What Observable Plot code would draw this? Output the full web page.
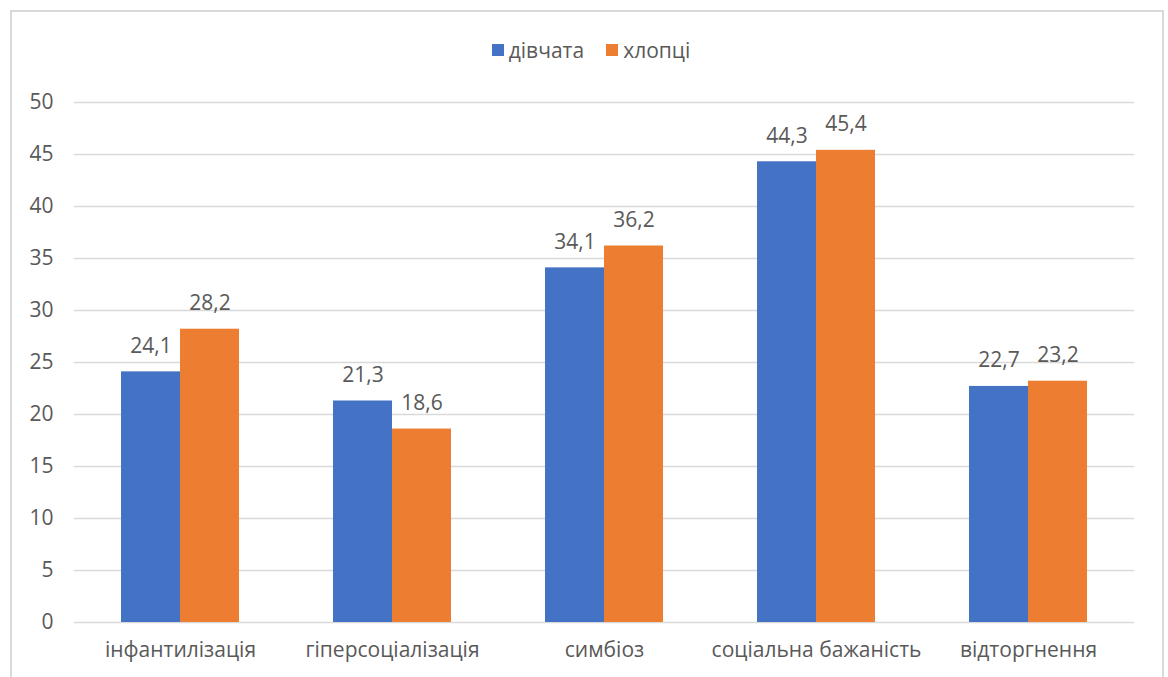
<!DOCTYPE html>
<html>
<head>
<meta charset="utf-8">
<script src="https://cdn.jsdelivr.net/npm/d3@7"></script>
<script src="https://cdn.jsdelivr.net/npm/@observablehq/plot@0.6"></script>
<style>
  html, body { margin: 0; padding: 0; background: #fff; overflow: hidden; }
  body { width: 1168px; height: 677px; position: relative; font-family: "Open Sans", "Noto Sans", sans-serif; }
  #frame { position: absolute; left: 10px; top: 10px; width: 1154px; height: 700px; border: 2px solid #d9d9d9; box-sizing: border-box; }
  #legend { position: absolute; left: 7px; top: 36px; width: 1168px; display: flex; justify-content: center; gap: 22px; font-size: 21px; color: #595959; line-height: 28px; }
  #legend .item { display: flex; align-items: center; gap: 5px; }
  #legend .sw { width: 12px; height: 12px; display: inline-block; }
  #chart { position: absolute; left: 0; top: 80px; }
</style>
</head>
<body>
<div id="frame"></div>
<div id="legend"></div>
<div id="chart"></div>
<script>
const categories = ["інфантилізація", "гіперсоціалізація", "симбіоз", "соціальна бажаність", "відторгнення"];
const seriesNames = ["дівчата", "хлопці"];
const girls = [24.1, 21.3, 34.1, 44.3, 22.7];
const boys = [28.2, 18.6, 36.2, 45.4, 23.2];
const yTicks = [0, 5, 10, 15, 20, 25, 30, 35, 40, 45, 50];
const colors = ["#4472C4", "#ED7D31"];

const data = [];
categories.forEach((c, i) => {
  data.push({category: c, series: seriesNames[0], value: girls[i]});
  data.push({category: c, series: seriesNames[1], value: boys[i]});
});

const legend = document.getElementById("legend");
seriesNames.forEach((s, i) => {
  const item = document.createElement("div");
  item.className = "item";
  const sw = document.createElement("span");
  sw.className = "sw";
  sw.style.background = colors[i];
  const t = document.createElement("span");
  t.textContent = s;
  item.appendChild(sw);
  item.appendChild(t);
  legend.appendChild(item);
});

const fmt = v => v.toFixed(1).replace(".", ",");

const chart = Plot.plot({
  width: 1168,
  height: 597,
  marginTop: 22,
  marginBottom: 55,
  marginLeft: 74,
  marginRight: 34,
  style: {fontFamily: "'Open Sans', 'Noto Sans', sans-serif", fontSize: "21px", color: "#595959", background: "transparent"},
  fx: {domain: categories, padding: 0, label: null, tickSize: 0, tickPadding: 20, axis: "bottom"},
  x: {domain: seriesNames, paddingInner: 0, paddingOuter: 0.767, axis: null},
  y: {domain: [0, 50], ticks: yTicks, tickSize: 0, tickPadding: 21, label: null, tickFormat: d => String(d)},
  color: {domain: seriesNames, range: colors},
  marks: [
    Plot.ruleY(yTicks, {stroke: "#d9d9d9", strokeWidth: 1.5}),
    Plot.barY(data, {fx: "category", x: "series", y: "value", fill: "series"}),
    Plot.text(data, {fx: "category", x: "series", y: "value", text: d => fmt(d.value), lineAnchor: "bottom", dy: -19, fill: "#595959", fontSize: 21})
  ]
});
document.getElementById("chart").appendChild(chart);
</script>
</body>
</html>
